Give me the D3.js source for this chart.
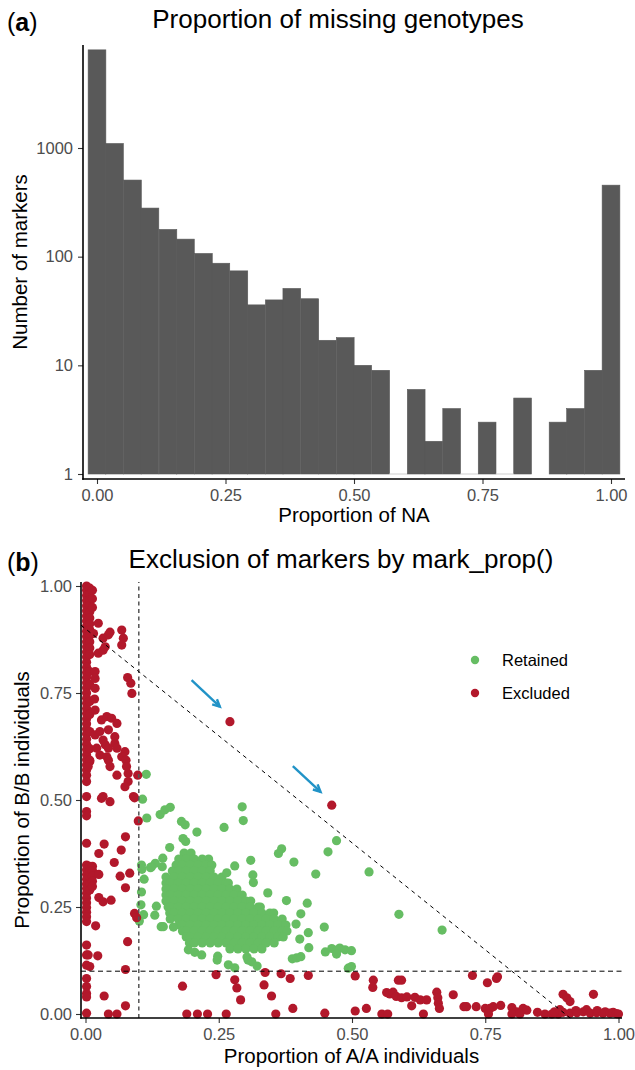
<!DOCTYPE html>
<html>
<head>
<meta charset="utf-8">
<script src="https://cdn.jsdelivr.net/npm/d3@7"></script>
<style>
  body { margin: 0; background: #fff; }
  svg { display: block; }
</style>
</head>
<body>
<svg id="chart" width="635" height="1070"></svg>
<script>
// ---- panel (a): histogram of missing proportion ----
const naBinCenters = [0.000, 0.034, 0.069, 0.103, 0.138, 0.172, 0.207, 0.241, 0.276, 0.310,
  0.345, 0.379, 0.414, 0.448, 0.483, 0.517, 0.552, 0.586, 0.621, 0.655,
  0.690, 0.724, 0.759, 0.793, 0.828, 0.862, 0.897, 0.931, 0.966, 1.000];
const naCounts = [8000, 1100, 507, 280, 178, 145, 107, 87, 74, 36,
  40, 51, 41, 17, 18, 10, 9, 0, 6, 2,
  4, 0, 3, 0, 5, 1, 3, 4, 9, 455];
const naBinWidth = 0.0345;
const countTicks = [1, 10, 100, 1000];
const propTicks = [0, 0.25, 0.5, 0.75, 1];

// ---- panel (b): A/A vs B/B proportions ----
const retained = [
  // dense core
  [.185,.376],[.198,.376],
  [.175,.362],[.189,.362],[.204,.362],[.219,.362],[.231,.362],
  [.170,.348],[.181,.348],[.196,.348],[.211,.348],[.226,.348],[.237,.348],
  [.163,.334],[.174,.334],[.189,.334],[.204,.334],[.219,.334],[.234,.334],
  [.151,.320],[.166,.320],[.181,.320],[.196,.320],[.211,.320],[.226,.320],[.241,.320],[.256,.320],
  [.151,.306],[.159,.306],[.174,.306],[.189,.306],[.204,.306],[.219,.306],[.234,.306],[.249,.306],[.264,.306],[.268,.306],
  [.151,.292],[.166,.292],[.181,.292],[.196,.292],[.211,.292],[.226,.292],[.241,.292],[.256,.292],[.271,.292],[.284,.292],
  [.151,.278],[.159,.278],[.174,.278],[.189,.278],[.204,.278],[.219,.278],[.234,.278],[.249,.278],[.264,.278],[.279,.278],[.294,.278],
  [.151,.264],[.166,.264],[.181,.264],[.196,.264],[.211,.264],[.226,.264],[.241,.264],[.256,.264],[.271,.264],[.286,.264],[.301,.264],[.310,.264],
  [.155,.250],[.159,.250],[.174,.250],[.189,.250],[.204,.250],[.219,.250],[.234,.250],[.249,.250],[.264,.250],[.279,.250],[.294,.250],[.309,.250],[.324,.250],[.328,.250],
  [.158,.236],[.166,.236],[.181,.236],[.196,.236],[.211,.236],[.226,.236],[.241,.236],[.256,.236],[.271,.236],[.286,.236],[.301,.236],[.316,.236],[.331,.236],[.346,.236],[.353,.236],
  [.159,.222],[.174,.222],[.189,.222],[.204,.222],[.219,.222],[.234,.222],[.249,.222],[.264,.222],[.279,.222],[.294,.222],[.309,.222],[.324,.222],[.339,.222],[.354,.222],[.369,.222],
  [.176,.208],[.181,.208],[.196,.208],[.211,.208],[.226,.208],[.241,.208],[.256,.208],[.271,.208],[.286,.208],[.301,.208],[.316,.208],[.331,.208],[.346,.208],[.361,.208],[.376,.208],
  [.182,.194],[.189,.194],[.204,.194],[.219,.194],[.234,.194],[.249,.194],[.264,.194],[.279,.194],[.294,.194],[.309,.194],[.324,.194],[.339,.194],[.354,.194],[.369,.194],[.378,.194],
  [.189,.180],[.196,.180],[.211,.180],[.226,.180],[.241,.180],[.256,.180],[.271,.180],[.286,.180],[.301,.180],[.316,.180],[.331,.180],[.346,.180],[.361,.180],[.371,.180],
  [.195,.166],[.204,.166],[.219,.166],[.234,.166],[.249,.166],[.264,.166],[.279,.166],[.294,.166],[.309,.166],[.324,.166],[.339,.166],[.354,.166],
  [.271,.152],[.286,.152],[.301,.152],[.316,.152],[.331,.152],
  // scattered
  [.107,.502],[.114,.560],[.115,.458],[.140,.466],[.149,.477],[.159,.483],[.294,.484],[.296,.452],
  [.180,.450],[.187,.442],[.209,.425],[.260,.436],[.183,.410],[.188,.403],[.158,.389],[.368,.386],
  [.362,.375],[.471,.405],[.455,.379],[.310,.359],[.391,.355],[.432,.327],[.532,.332],[.145,.364],
  [.131,.352],[.124,.344],[.144,.344],[.105,.348],[.106,.338],[.122,.342],[.110,.315],[.105,.285],
  [.104,.255],[.109,.232],[.101,.217],[.133,.252],[.130,.231],[.142,.204],[.146,.204],[.165,.203],
  [.280,.346],[.265,.330],[.314,.325],[.315,.307],[.342,.283],[.377,.265],[.416,.259],[.404,.234],
  [.395,.210],[.588,.233],[.669,.196],[.418,.190],[.448,.203],[.402,.175],[.419,.155],[.388,.129],
  [.396,.131],[.404,.134],[.450,.145],[.462,.153],[.471,.149],[.477,.154],[.487,.150],[.499,.148],
  [.471,.140],[.493,.107],[.499,.111],[.193,.150],[.205,.144],[.218,.138],[.248,.135],[.247,.126],
  [.268,.115],[.280,.108],[.303,.133],[.305,.126],[.312,.122],[.322,.112]
];

const excluded = [
  // column at A/A = 0
  [.002,1.0],[.002,.990],[.002,.978],[.002,.966],[.002,.954],[.002,.942],[.002,.930],[.002,.918],
  [.002,.906],[.002,.894],[.002,.882],[.002,.870],[.002,.858],[.002,.846],[.002,.834],[.002,.822],
  [.002,.810],[.002,.798],[.002,.786],[.002,.774],[.002,.762],[.002,.750],[.002,.738],[.002,.726],
  [.002,.714],[.002,.702],[.002,.690],[.002,.678],[.002,.666],[.002,.654],[.002,.642],[.002,.630],
  [.002,.618],[.002,.606],[.002,.594],[.002,.582],[.002,.570],[.002,.558],[.002,.543],[.002,.508],
  [.002,.473],[.002,.463],[.002,.399],[.002,.348],[.002,.337],[.002,.326],[.002,.315],[.002,.304],
  [.002,.293],[.002,.282],[.002,.271],[.002,.260],[.002,.249],[.002,.238],[.002,.227],[.002,.216],
  [.002,.161],[.002,.138],[.002,.114],[.002,.083],[.002,.064],[.002,.048],[.002,.040],[.002,.002],
  [.008,.995],[.008,.982],[.008,.968],[.008,.955],[.008,.940],[.008,.925],[.008,.912],[.008,.898],
  [.008,.885],[.008,.870],[.008,.855],[.008,.840],[.008,.800],[.008,.770],[.008,.730],[.008,.700],
  [.008,.660],[.008,.620],[.008,.590],[.008,.345],[.008,.333],[.008,.320],[.008,.305],[.008,.290],
  [.013,.345],[.013,.335],[.013,.322],[.013,.310],[.013,.298],[.013,.990],[.013,.970],[.013,.950],
  // upper left
  [.024,.913],[.015,.889],[.033,.878],[.043,.886],[.046,.892],[.068,.897],[.071,.878],[.068,.862],
  [.024,.843],[.033,.850],[.037,.858],[.018,.800],[.018,.784],[.079,.786],[.085,.773],[.087,.749],
  [.018,.761],[.017,.736],[.018,.710],[.030,.687],[.040,.695],[.049,.691],[.059,.679],[.018,.652],
  [.027,.660],[.043,.664],[.033,.640],[.037,.629],[.043,.621],[.021,.621],[.027,.605],[.040,.601],
  [.043,.593],[.008,.593],[.005,.578],[.074,.613],[.068,.601],[.046,.578],[.059,.558],[.080,.562],
  [.080,.543],[.074,.531],[.098,.558],[.090,.508],[.033,.508],[.030,.504],[.046,.496],[.092,.505],
  [.055,.648],[.055,.632],[.059,.621],[.076,.593],[.077,.578],[.271,.683],[.462,.488],
  // lower left
  [.099,.451],[.075,.414],[.035,.397],[.025,.375],[.067,.383],[.054,.354],[.025,.326],[.065,.322],
  [.083,.329],[.075,.295],[.025,.272],[.033,.262],[.048,.266],[.092,.235],[.096,.225],[.019,.206],
  [.079,.169],[.005,.138],[.023,.136],[.008,.111],[.075,.104],[.035,.042],[.075,.019],[.043,0],[.059,0],
  // bottom middle
  [.182,.065],[.190,0],[.210,0],[.229,0],[.264,0],[.245,.092],[.280,.080],[.284,.061],
  [.291,.033],[.337,.097],[.335,.068],[.349,.042],[.357,0],[.367,.094],[.384,.083],[.389,.013],
  [.418,.090],[.449,.002],
  // bottom right
  [.506,.089],[.540,.079],[.539,.062],[.587,.079],[.593,.079],[.726,.090],[.754,.073],[.771,.083],
  [.773,.087],[.506,.007],[.527,.013],[.556,0],[.567,0],[.565,.050],[.571,.047],[.577,.051],
  [.583,.041],[.593,.038],[.603,.040],[.618,.039],[.628,.033],[.640,.033],[.612,.019],[.634,0],
  [.659,.051],[.661,.038],[.662,.025],[.664,.013],[.690,.045],[.710,.017],[.715,.017],[.733,.017],
  [.750,.013],[.759,.013],[.765,.017],[.779,.020],[.756,0],[.800,.015],[.809,.005],[.821,.013],
  [.828,.009],[.800,0],[.815,0],[.848,.004],[.862,0],[.875,0],[.887,0],[.896,.046],
  [.903,.038],[.909,.029],[.953,.046],[.880,.005],[.890,.010],[.896,.004],[.909,.002],[.920,.008],
  [.922,.003],[.934,.005],[.940,.010],[.947,.002],[.959,.003],[.960,.008],[.971,.002],[.975,.005],
  [.984,.002],[.990,.004],[.996,.001],[1.0,0]
];

const legendLabels = ['Retained', 'Excluded'];
const arrowStarts = [[.199, .780], [.389, .579]];
const arrowEnds = [[.252, .718], [.441, .519]];
const cutAA = 0.1, cutBB = 0.1, cutSum = 0.9;

const FONT = '"Liberation Sans", Arial, Helvetica, sans-serif';
const GREEN = '#66bd63', RED = '#b2182b', BLUE = '#2193c7', BAR = '#595959';
const svg = d3.select('#chart').style('font-family', FONT);

let styleAxis = (g) => {
  g.select('.domain').remove();
  g.attr('font-size', 16.5).attr('font-family', FONT);
  g.selectAll('.tick line').attr('stroke', '#333').attr('stroke-width', 1.1);
  g.selectAll('.tick text').attr('fill', '#4d4d4d');
};

let panelTag = (x, y, letter) => {
  let t = svg.append('text').attr('x', x).attr('y', y).attr('font-size', 25).attr('fill', '#000');
  t.append('tspan').text('(');
  t.append('tspan').attr('font-weight', 'bold').text(letter);
  t.append('tspan').text(')');
};

// ===== panel (a) =====
const aBox = { left: 83, right: 625, top: 45, bottom: 479 };
const xNA = d3.scaleLinear().domain([0, 1]).range([97, 611]);
const yCount = d3.scaleLog().domain([1, 1000]).range([474, 148]);

let bins = naCounts.map((c, i) => ({ c: c, x: naBinCenters[i] }));

svg.append('g')
  .selectAll('rect')
  .data(bins.filter((d) => d.c > 0))
  .enter()
  .append('rect')
  .attr('x', (d) => xNA(d.x - naBinWidth / 2))
  .attr('width', (d) => xNA(d.x + naBinWidth / 2) - xNA(d.x - naBinWidth / 2))
  .attr('y', (d) => yCount(d.c))
  .attr('height', (d) => yCount(1) - yCount(d.c))
  .attr('fill', BAR)
  .attr('stroke', BAR)
  .attr('stroke-width', 0.6);

// empty bins leave a faint line at the base
svg.append('g')
  .selectAll('rect')
  .data(bins.filter((d) => d.c === 0))
  .enter()
  .append('rect')
  .attr('x', (d) => xNA(d.x - naBinWidth / 2))
  .attr('width', (d) => xNA(d.x + naBinWidth / 2) - xNA(d.x - naBinWidth / 2))
  .attr('y', yCount(1) - 0.5)
  .attr('height', 1)
  .attr('fill', '#d0d0d0');

svg.append('g')
  .attr('transform', `translate(${aBox.left},0)`)
  .call(d3.axisLeft(yCount).tickValues(countTicks).tickFormat(d3.format('d')).tickSize(5).tickPadding(5))
  .call(styleAxis);

svg.append('g')
  .attr('transform', `translate(0,${aBox.bottom})`)
  .call(d3.axisBottom(xNA).tickValues(propTicks).tickFormat(d3.format('.2f')).tickSize(5).tickPadding(5))
  .call(styleAxis);

svg.append('line').attr('x1', aBox.left).attr('x2', aBox.left).attr('y1', aBox.top).attr('y2', aBox.bottom + 0.8)
  .attr('stroke', '#000').attr('stroke-width', 1.6);
svg.append('line').attr('x1', aBox.left - 0.8).attr('x2', aBox.right).attr('y1', aBox.bottom).attr('y2', aBox.bottom)
  .attr('stroke', '#000').attr('stroke-width', 1.6);

panelTag(7, 31, 'a');
svg.append('text').attr('x', 338).attr('y', 28).attr('text-anchor', 'middle')
  .attr('font-size', 26).text('Proportion of missing genotypes');
svg.append('text').attr('x', 354).attr('y', 522).attr('text-anchor', 'middle')
  .attr('font-size', 20.5).text('Proportion of NA');
svg.append('text').attr('transform', `translate(27,${(aBox.top + aBox.bottom) / 2}) rotate(-90)`)
  .attr('text-anchor', 'middle').attr('font-size', 20.5).text('Number of markers');

// ===== panel (b) =====
const bBox = { left: 81, right: 622, top: 582, bottom: 1018 };
const xAA = d3.scaleLinear().domain([0, 1]).range([85.5, 618.5]);
const yBB = d3.scaleLinear().domain([0, 1]).range([1014, 586]);

let drawPoints = (data, color) => {
  svg.append('g')
    .selectAll('circle')
    .data(data)
    .enter()
    .append('circle')
    .attr('cx', (d) => xAA(d[0]))
    .attr('cy', (d) => yBB(d[1]))
    .attr('r', 4.6)
    .attr('fill', color);
};
drawPoints(retained, GREEN);
drawPoints(excluded, RED);

// threshold lines
let xMin = xAA.invert(bBox.left), xMax = xAA.invert(bBox.right);
let yMin = yBB.invert(bBox.bottom), yMax = yBB.invert(bBox.top);

svg.append('line')
  .attr('x1', xAA(cutAA)).attr('x2', xAA(cutAA)).attr('y1', yBB(yMin)).attr('y2', yBB(yMax))
  .attr('stroke', '#555').attr('stroke-width', 1.5).attr('stroke-dasharray', '4,3.5');
svg.append('line')
  .attr('x1', xAA(xMin)).attr('x2', xAA(xMax)).attr('y1', yBB(cutBB)).attr('y2', yBB(cutBB))
  .attr('stroke', '#000').attr('stroke-width', 1).attr('stroke-dasharray', '5,3.5');
svg.append('line')
  .attr('x1', xAA(xMin)).attr('y1', yBB(cutSum - xMin))
  .attr('x2', xAA(cutSum - yMin)).attr('y2', yBB(yMin))
  .attr('stroke', '#000').attr('stroke-width', 1).attr('stroke-dasharray', '4,4');

// arrows
arrowStarts.forEach((s, i) => {
  let e = arrowEnds[i];
  let x1 = xAA(s[0]), y1 = yBB(s[1]), x2 = xAA(e[0]), y2 = yBB(e[1]);
  let ang = Math.atan2(y2 - y1, x2 - x1);
  let len = 8, spread = Math.PI / 7;
  svg.append('line').attr('x1', x1).attr('y1', y1).attr('x2', x2).attr('y2', y2)
    .attr('stroke', BLUE).attr('stroke-width', 2.4);
  svg.append('path')
    .attr('d', `M${x2 - len * Math.cos(ang - spread)},${y2 - len * Math.sin(ang - spread)}L${x2},${y2}L${x2 - len * Math.cos(ang + spread)},${y2 - len * Math.sin(ang + spread)}`)
    .attr('fill', 'none').attr('stroke', BLUE).attr('stroke-width', 2.4).attr('stroke-linejoin', 'miter');
});

svg.append('g')
  .attr('transform', `translate(${bBox.left},0)`)
  .call(d3.axisLeft(yBB).tickValues(propTicks).tickFormat(d3.format('.2f')).tickSize(5).tickPadding(4))
  .call(styleAxis);
svg.append('g')
  .attr('transform', `translate(0,${bBox.bottom})`)
  .call(d3.axisBottom(xAA).tickValues(propTicks).tickFormat(d3.format('.2f')).tickSize(5).tickPadding(5))
  .call(styleAxis);

svg.append('line').attr('x1', bBox.left).attr('x2', bBox.left).attr('y1', bBox.top).attr('y2', bBox.bottom + 0.8)
  .attr('stroke', '#000').attr('stroke-width', 1.6);
svg.append('line').attr('x1', bBox.left - 0.8).attr('x2', bBox.right).attr('y1', bBox.bottom).attr('y2', bBox.bottom)
  .attr('stroke', '#000').attr('stroke-width', 1.6);

panelTag(7, 571, 'b');
svg.append('text').attr('x', 341).attr('y', 568).attr('text-anchor', 'middle')
  .attr('font-size', 26).text('Exclusion of markers by mark_prop()');
svg.append('text').attr('x', 351.5).attr('y', 1063).attr('text-anchor', 'middle')
  .attr('font-size', 20.5).text('Proportion of A/A individuals');
svg.append('text').attr('transform', `translate(29,${(bBox.top + bBox.bottom) / 2}) rotate(-90)`)
  .attr('text-anchor', 'middle').attr('font-size', 20.5).text('Proportion of B/B individuals');

// legend
let legend = svg.append('g').attr('transform', 'translate(475,660)');
legendLabels.forEach((lab, i) => {
  let row = legend.append('g').attr('transform', `translate(0,${i * 33})`);
  row.append('circle').attr('r', 4.2).attr('fill', i === 0 ? GREEN : RED);
  row.append('text').attr('x', 27).attr('y', 6).attr('font-size', 16.5).text(lab);
});
</script>
</body>
</html>
